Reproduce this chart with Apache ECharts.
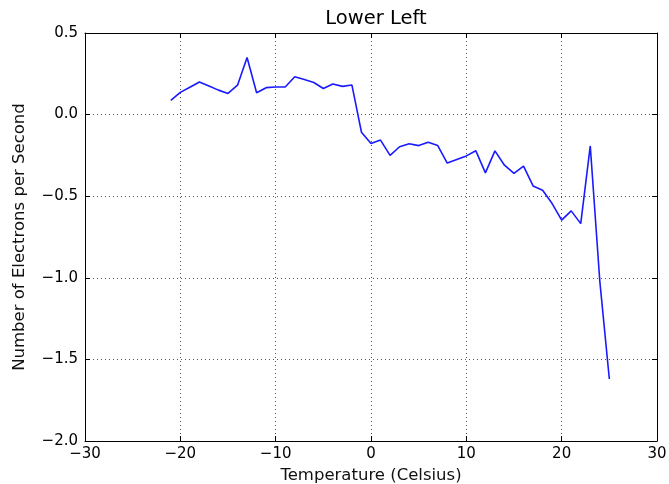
<!DOCTYPE html>
<html>
<head>
<meta charset="utf-8">
<title>Lower Left</title>
<script src="https://cdn.jsdelivr.net/npm/echarts@6/dist/echarts.min.js"></script>
<style>
  html, body { margin: 0; padding: 0; background: #fff; }
  #chart { width: 669px; height: 484px; }
</style>
</head>
<body>
<div id="chart"></div>
<script>
// temperature (Celsius), one reading per degree
var temperatures = [-21, -20, -19, -18, -17, -16, -15, -14, -13, -12, -11, -10, -9, -8, -7, -6, -5, -4, -3, -2,
  -1, 0, 1, 2, 3, 4, 5, 6, 7, 8, 9, 10, 11, 12, 13, 14, 15, 16, 17, 18, 19, 20, 21, 22, 23, 24, 25];
// electrons per second
var electrons = [0.087, 0.136, 0.168, 0.2, 0.175, 0.15, 0.13, 0.18, 0.35, 0.134, 0.165, 0.169, 0.169, 0.232, 0.215, 0.197,
  0.16, 0.187, 0.173, 0.181, -0.108, -0.177, -0.156, -0.25, -0.197, -0.179, -0.19, -0.17, -0.19, -0.297,
  -0.275, -0.253, -0.222, -0.357, -0.222, -0.31, -0.36, -0.316, -0.437, -0.463, -0.545, -0.647, -0.59,
  -0.668, -0.192, -1.02, -1.62];

var xTicks = [-30, 30, 10];
var yTicks = [-2.0, 0.5, 0.5];

var FONT = 'DejaVu Sans';

function minus(s) {
  return String(s).replace('-', '\u2212');
}

var points = temperatures.map(function (t, i) { return [t, electrons[i]]; });

var chart = echarts.init(document.getElementById('chart'));

var gridLine = { show: true, lineStyle: { color: '#555', type: [1, 3], width: 1 } };
var frame = { show: true, onZero: false, lineStyle: { color: '#000', width: 1 } };
var tick = { show: true, inside: true, length: 5, lineStyle: { color: '#000' } };

chart.setOption({
  animation: false,
  backgroundColor: '#fff',
  title: {
    text: 'Lower Left',
    left: 371,
    textAlign: 'center',
    top: 4,
    textStyle: { fontFamily: FONT, fontSize: 19.5, fontWeight: 'normal', color: '#000' }
  },
  grid: { left: 85, right: 12, top: 33, bottom: 43, containLabel: false, outerBoundsMode: 'none' },
  xAxis: [{
    type: 'value',
    min: xTicks[0], max: xTicks[1], interval: xTicks[2],
    name: 'Temperature (Celsius)',
    nameLocation: 'middle',
    nameGap: 18,
    nameTextStyle: { fontFamily: FONT, fontSize: 16.5, color: '#111' },
    axisLine: frame, axisTick: tick, splitLine: gridLine,
    axisLabel: { margin: 6, fontFamily: FONT, fontSize: 15, color: '#000', formatter: function (v) { return minus(v); } }
  }, {
    type: 'value', position: 'top',
    min: xTicks[0], max: xTicks[1], interval: xTicks[2],
    axisLine: frame, axisTick: tick, splitLine: { show: false }, axisLabel: { show: false }
  }],
  yAxis: [{
    type: 'value',
    min: yTicks[0], max: yTicks[1], interval: yTicks[2],
    name: 'Number of Electrons per Second',
    nameLocation: 'middle',
    nameGap: 57,
    nameTextStyle: { fontFamily: FONT, fontSize: 16.5, color: '#111' },
    axisLine: frame, axisTick: tick, splitLine: gridLine,
    axisLabel: { margin: 7, fontFamily: FONT, fontSize: 15, color: '#000', formatter: function (v) { return minus(v.toFixed(1)); } }
  }, {
    type: 'value', position: 'right',
    min: yTicks[0], max: yTicks[1], interval: yTicks[2],
    axisLine: frame, axisTick: tick, splitLine: { show: false }, axisLabel: { show: false }
  }],
  series: [{
    type: 'line',
    data: points,
    showSymbol: false,
    lineStyle: { color: '#1a1aff', width: 1.6 },
    z: 3
  }]
});
</script>
</body>
</html>
